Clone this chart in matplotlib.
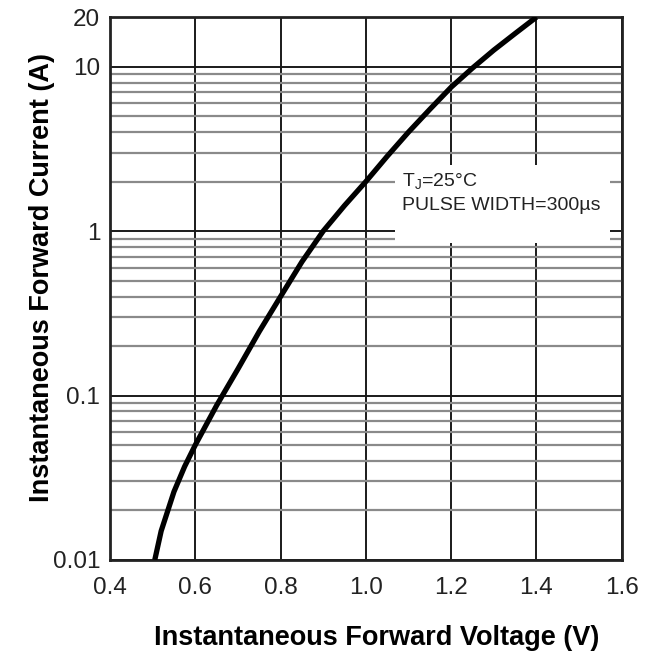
import numpy as np
import matplotlib
matplotlib.use("Agg")
import matplotlib.pyplot as plt
from matplotlib.ticker import FixedLocator, NullFormatter, LogLocator

plt.rcParams['font.family'] = ['Liberation Sans', 'DejaVu Sans']

# forward characteristic
voltage = [0.505, 0.52, 0.55, 0.575, 0.6, 0.65, 0.7, 0.75, 0.8, 0.85, 0.9,
           0.95, 1.0, 1.05, 1.1, 1.15, 1.2, 1.25, 1.3, 1.35, 1.4]
current = [0.01, 0.015, 0.026, 0.037, 0.05, 0.087, 0.145, 0.245, 0.4, 0.65,
           1.0, 1.43, 2.0, 2.85, 4.0, 5.5, 7.5, 9.8, 12.6, 15.9, 20]

x_ticks = [0.4, 0.6, 0.8, 1.0, 1.2, 1.4, 1.6]
x_labels = ['0.4', '0.6', '0.8', '1.0', '1.2', '1.4', '1.6']
y_ticks = [0.01, 0.1, 1, 10, 20]
y_labels = ['0.01', '0.1', '1', '10', '20']

fig = plt.figure(figsize=(6.47, 6.58), dpi=100)
ax = fig.add_axes([0.170, 0.149, 0.791, 0.825])

ax.set_yscale('log')
ax.set_xlim(0.4, 1.6)
ax.set_ylim(0.01, 20)

# grid
ax.yaxis.set_minor_locator(LogLocator(base=10, subs=np.arange(2, 10)))
ax.yaxis.set_minor_formatter(NullFormatter())
ax.grid(True, which='minor', axis='y', color='#8a8a8a', lw=1.6)
ax.grid(True, which='major', axis='y', color='#1a1a1a', lw=1.4)
ax.grid(True, which='major', axis='x', color='#1a1a1a', lw=1.4)
ax.set_axisbelow(True)

ax.set_xticks(x_ticks)
ax.set_xticklabels(x_labels)
ax.yaxis.set_major_locator(FixedLocator(y_ticks))
ax.set_yticklabels(y_labels)
ax.tick_params(axis='both', which='both', length=0, labelsize=17.5,
               labelcolor='#222222')
ax.tick_params(axis='x', pad=12)
ax.tick_params(axis='y', pad=7)

for sp in ax.spines.values():
    sp.set_linewidth(2.0)
    sp.set_color('#222222')

ax.plot(voltage, current, color='black', lw=3.8, solid_capstyle='butt',
        solid_joinstyle='round', zorder=3)

# white label box over the grid
ax.add_patch(plt.Rectangle((0.557, 0.584), 0.42, 0.143, transform=ax.transAxes,
                           facecolor='white', edgecolor='none', zorder=2))
ax.text(0.570, 0.687, 'T$_\\mathregular{J}$=25°C', transform=ax.transAxes,
        fontsize=14, va='baseline', ha='left', color='#222222', zorder=4)
ax.text(0.570, 0.645, 'PULSE WIDTH=300µs', transform=ax.transAxes, fontsize=14,
        va='baseline', ha='left', color='#222222', zorder=4)

ax.set_xlabel('Instantaneous Forward Voltage (V)', fontsize=19.5,
              fontweight='bold')
ax.set_ylabel('Instantaneous Forward Current (A)', fontsize=19.5,
              fontweight='bold')
ax.xaxis.set_label_coords(0.522, -0.12)
ax.yaxis.set_label_coords(-0.107, 0.52)

fig.savefig('out.png', dpi=100)
